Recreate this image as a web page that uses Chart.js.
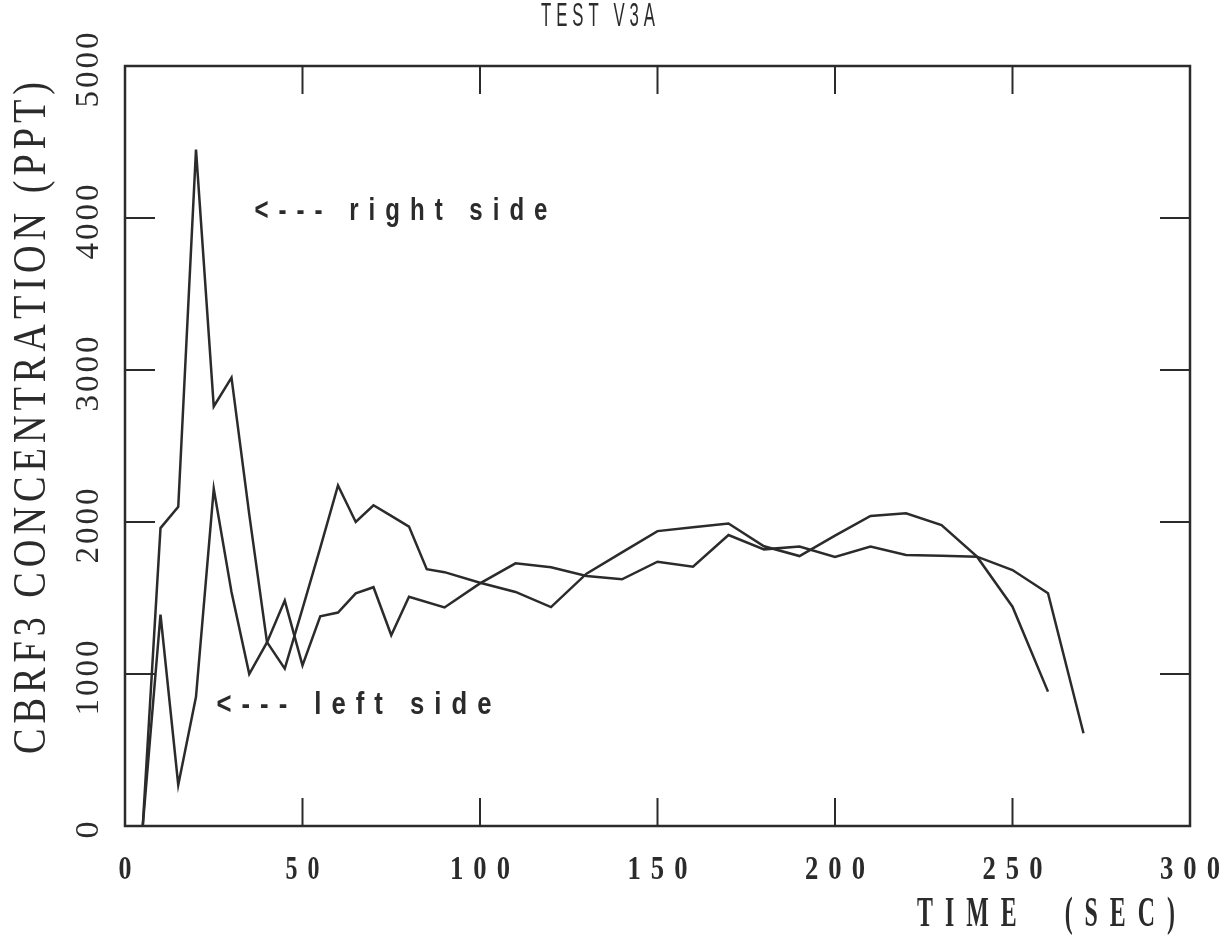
<!DOCTYPE html>
<html>
<head>
<meta charset="utf-8">
<script src="https://cdn.jsdelivr.net/npm/chart.js@4"></script>
<style>
  body { margin: 0; background: #fff; }
  #wrap { width: 1230px; height: 948px; }
</style>
</head>
<body>
<div id="wrap"><canvas id="cbrfChart"></canvas></div>
<script>
// time (sec) and CBRF3 concentration (ppt)
const rightTimes = [5, 10, 15, 20, 25, 30, 35, 40, 45, 50, 55, 60, 65, 70, 75, 80, 85, 90, 100, 110,
    120, 130, 140, 150, 160, 170, 180, 190, 200, 210, 220, 230, 240, 250, 260];
const rightSide = [0, 1960, 2100, 4450, 2760, 2950, 2050, 1210, 1035, 1430, 1830, 2240, 2000, 2110, 2040, 1970, 1690, 1670, 1600, 1540,
    1440, 1660, 1800, 1940, 1965, 1990, 1840, 1776, 1910, 2040, 2057, 1980, 1772, 1443, 884];

const leftTimes = [5, 10, 15, 20, 25, 30, 35, 40, 45, 50, 55, 60, 65, 70, 75, 80, 90, 100, 110,
    120, 130, 140, 150, 160, 170, 180, 190, 200, 210, 220, 230, 240, 250, 260, 270];
const leftSide = [0, 1390, 270, 850, 2218, 1540, 1000, 1208, 1483, 1057, 1380, 1404, 1530, 1571, 1255, 1508, 1438, 1596, 1728,
    1702, 1645, 1623, 1739, 1706, 1914, 1820, 1838, 1770, 1838, 1783, 1778, 1772, 1684, 1531, 610];

const xTicks = [0, 50, 100, 150, 200, 250, 300];
const yTicks = [0, 1000, 2000, 3000, 4000, 5000];

const ink = '#2b2b2b';

function toPoints(xs, ys) {
    return xs.map((x, i) => ({ x: x, y: ys[i] }));
}

// draw text centred at (cx, cy), squeezed to a given width, with letter spacing
function drawText(ctx, text, cx, cy, width, font, spacing, angle) {
    ctx.save();
    ctx.translate(cx, cy);
    ctx.rotate(angle || 0);
    ctx.font = font;
    ctx.textBaseline = 'middle';
    ctx.textAlign = 'left';
    const chars = [...text];
    const ws = chars.map(c => ctx.measureText(c).width);
    const raw = ws.reduce((a, b) => a + b, 0);
    const sx = (width - spacing * (chars.length - 1)) / raw;
    let pos = -width / 2;
    chars.forEach((c, i) => {
        ctx.save();
        ctx.translate(pos, 0);
        ctx.scale(sx, 1);
        ctx.fillText(c, 0, 0);
        ctx.restore();
        pos += ws[i] * sx + spacing;
    });
    ctx.restore();
}

const framePlugin = {
    id: 'frame',
    afterDraw(chart) {
        const ctx = chart.ctx;
        const a = chart.chartArea;
        const xs = chart.scales.x;
        const ys = chart.scales.y;
        ctx.save();
        ctx.strokeStyle = ink;
        ctx.fillStyle = ink;
        ctx.lineWidth = 2.5;
        ctx.strokeRect(a.left, a.top, a.right - a.left, a.bottom - a.top);

        // inward ticks
        ctx.lineWidth = 2;
        ctx.beginPath();
        xTicks.slice(1, -1).forEach(v => {
            const px = xs.getPixelForValue(v);
            ctx.moveTo(px, a.bottom); ctx.lineTo(px, a.bottom - 28);
            ctx.moveTo(px, a.top); ctx.lineTo(px, a.top + 28);
        });
        yTicks.slice(1, -1).forEach(v => {
            const py = ys.getPixelForValue(v);
            ctx.moveTo(a.left, py); ctx.lineTo(a.left + 30, py);
            ctx.moveTo(a.right, py); ctx.lineTo(a.right - 30, py);
        });
        ctx.stroke();

        // x tick labels
        xTicks.forEach(v => {
            const s = String(v);
            const w = s.length === 1 ? 13 : (s.length === 2 ? 34 : 60);
            drawText(ctx, s, xs.getPixelForValue(v), 870, w, 'bold 34px "Liberation Serif"', 10, 0);
        });

        // y tick labels, rotated
        yTicks.forEach(v => {
            const s = String(v);
            const w = s.length === 1 ? 17 : 75;
            drawText(ctx, s, 89, ys.getPixelForValue(v) + 4, w, '33px "Liberation Serif"', 3, -Math.PI / 2);
        });

        // titles
        drawText(ctx, 'CBRF3 CONCENTRATION (PPT)', 33, 418, 672, '46px "Liberation Serif"', 5, -Math.PI / 2);
        drawText(ctx, 'TIME  (SEC)', 1046, 915, 258, 'bold 42px "Liberation Serif"', 12, 0);
        drawText(ctx, 'TEST V3A', 598, 17, 114, '34px "Liberation Sans"', 5, 0);

        // annotations
        drawText(ctx, '<--- right side', 401, 211, 293, 'bold 31px "Liberation Sans"', 10, 0);
        drawText(ctx, '<--- left side', 354, 705, 275, 'bold 31px "Liberation Sans"', 10, 0);
        ctx.restore();
    }
};

window.onload = function () {
    const ctx = document.getElementById('cbrfChart').getContext('2d');
    new Chart(ctx, {
        type: 'line',
        data: {
            datasets: [{
                label: 'right side',
                data: toPoints(rightTimes, rightSide),
                borderColor: ink,
                borderWidth: 2.5,
                pointRadius: 0,
                tension: 0,
                fill: false
            }, {
                label: 'left side',
                data: toPoints(leftTimes, leftSide),
                borderColor: ink,
                borderWidth: 2.5,
                pointRadius: 0,
                tension: 0,
                fill: false
            }]
        },
        options: {
            responsive: true,
            maintainAspectRatio: false,
            animation: false,
            layout: { padding: { left: 125, right: 40, top: 66, bottom: 122 } },
            plugins: {
                legend: { display: false },
                tooltip: { enabled: false }
            },
            scales: {
                x: { type: 'linear', min: 0, max: 300, display: false },
                y: { type: 'linear', min: 0, max: 5000, display: false }
            }
        },
        plugins: [framePlugin]
    });
};
</script>
</body>
</html>
